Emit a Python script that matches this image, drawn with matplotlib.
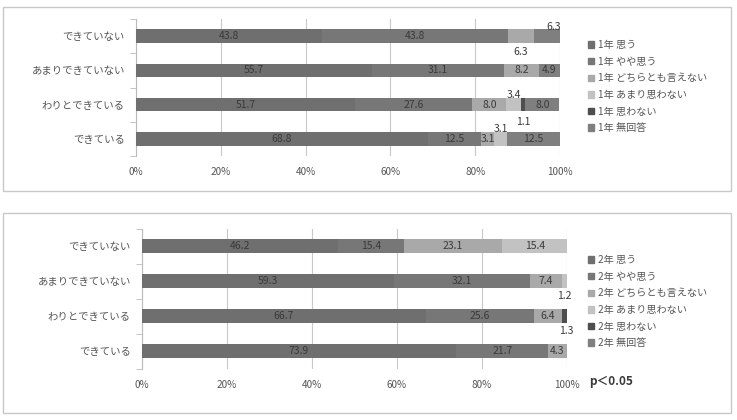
import matplotlib
matplotlib.use("Agg")
import matplotlib.pyplot as plt
from matplotlib.patches import Rectangle, Patch

plt.rcParams['font.family'] = ['Noto Sans CJK JP', 'DejaVu Sans']

# データ
categories = ['できている', 'わりとできている', 'あまりできていない', 'できていない']
answers = ['思う', 'やや思う', 'どちらとも言えない', 'あまり思わない', '思わない', '無回答']

y1_vals = [
    [68.8, 51.7, 55.7, 43.8],   # 思う
    [12.5, 27.6, 31.1, 43.8],   # やや思う
    [3.1, 8.0, 8.2, 6.3],       # どちらとも言えない
    [3.1, 3.4, 0, 0],           # あまり思わない
    [0, 1.1, 0, 0],             # 思わない
    [12.5, 8.0, 4.9, 6.3],      # 無回答
]
y2_vals = [
    [73.9, 66.7, 59.3, 46.2],
    [21.7, 25.6, 32.1, 15.4],
    [4.3, 6.4, 7.4, 23.1],
    [0, 0, 1.2, 15.4],
    [0, 1.3, 0, 0],
    [0, 0, 0, 0],
]
xticks = [0, 20, 40, 60, 80, 100]
xtick_labels = ['0%', '20%', '40%', '60%', '80%', '100%']

colors = ['#6f6f6f', '#777777', '#a9a9a9', '#c2c2c2', '#4e4e4e', '#7f7f7f']

# 小さい値のラベルを上下にずらす (系列, 行): (dx, dy)
shift1 = {(3, 0): (0, 0.29), (3, 1): (0, 0.29), (4, 1): (0, -0.5),
          (2, 3): (0, -0.47), (5, 3): (1.5, 0.26)}
shift2 = {(3, 2): (0, -0.42), (4, 1): (0.5, -0.44)}

fig = plt.figure(figsize=(7.37, 4.2), dpi=100)

# 枠
for (x0, y0, x1, y1) in [(3, 7, 731, 191), (3, 213, 731, 413)]:
    fig.patches.append(Rectangle((x0 / 737, 1 - y1 / 420), (x1 - x0) / 737, (y1 - y0) / 420,
                                 transform=fig.transFigure, fill=False,
                                 edgecolor='#c8c8c8', linewidth=1.0))


def draw(ax, vals, year, shifts, leg_y):
    left = [0] * len(categories)
    handles = []
    for i, v in enumerate(vals):
        ax.barh(range(len(categories)), v, left=left, height=0.39,
                color=colors[i], zorder=3)
        for j, val in enumerate(v):
            if val > 0:
                dx, dy = shifts.get((i, j), (0, 0))
                ax.text(left[j] + val / 2 + dx, j + dy, f'{val:.1f}',
                        ha='center', va='center', fontsize=7.5, color='#3a3a3a', zorder=4)
        left = [a + b for a, b in zip(left, v)]
        handles.append(Patch(color=colors[i], label=f'{year} {answers[i]}'))
    ax.set_xlim(0, 100)
    ax.set_ylim(-0.5, len(categories) - 0.5)
    ax.set_yticks(range(len(categories)))
    ax.set_yticklabels(categories, fontsize=7.5, color='#555555')
    ax.set_yticks([k - 0.5 for k in range(len(categories) + 1)], minor=True)
    ax.tick_params(axis='y', which='major', length=0, pad=8)
    ax.tick_params(axis='y', which='minor', length=4, color='#bbbbbb')
    ax.set_xticks(xticks)
    ax.set_xticklabels(xtick_labels, fontsize=7.2, color='#555555')
    ax.tick_params(axis='x', length=0, pad=8)
    ax.grid(axis='x', color='#c8c8c8', linewidth=0.8, zorder=0)
    for s in ['top', 'right', 'bottom']:
        ax.spines[s].set_visible(False)
    ax.spines['left'].set_color('#bbbbbb')
    fig.legend(handles=handles, loc='upper left', bbox_to_anchor=(0.786, leg_y),
               frameon=False, fontsize=7.3, handlelength=0.6, handleheight=0.6,
               handletextpad=0.3, labelspacing=0.65, labelcolor='#555555')


ax1 = fig.add_axes([0.1845, 0.628, 0.5755, 0.327])
draw(ax1, y1_vals, '1年', shift1, 0.926)

ax2 = fig.add_axes([0.1927, 0.1226, 0.5767, 0.333])
draw(ax2, y2_vals, '2年', shift2, 0.414)

fig.text(0.80, 1 - 382 / 420, 'p＜0.05', fontsize=8.5, fontweight='bold',
         color='#3a3a3a', va='center', ha='left')

fig.savefig('out.png', dpi=100)
